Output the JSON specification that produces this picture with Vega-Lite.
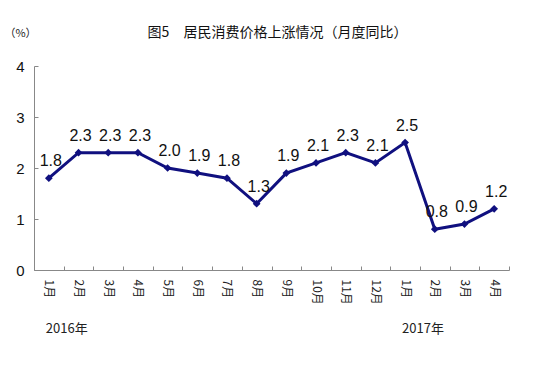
{
  "$schema": "https://vega.github.io/schema/vega-lite/v6.json",
  "width": 475,
  "height": 204,
  "autosize": "none",
  "padding": {"left": 34, "top": 66, "right": 39, "bottom": 99},
  "background": "white",
  "config": {"view": {"stroke": null}, "font": "Liberation Sans"},
  "title": {
    "text": "图5　居民消费价格上涨情况（月度同比）",
    "font": "Noto Sans CJK SC",
    "fontSize": 14,
    "fontWeight": "normal",
    "color": "#111",
    "anchor": "middle",
    "dx": 6,
    "offset": -13
  },
  "data": {
    "values": [
      {"m": "2016年1月", "v": 1.8, "year": "2016年"},
      {"m": "2016年2月", "v": 2.3, "year": ""},
      {"m": "2016年3月", "v": 2.3, "year": ""},
      {"m": "2016年4月", "v": 2.3, "year": ""},
      {"m": "2016年5月", "v": 2.0, "year": ""},
      {"m": "2016年6月", "v": 1.9, "year": ""},
      {"m": "2016年7月", "v": 1.8, "year": ""},
      {"m": "2016年8月", "v": 1.3, "year": ""},
      {"m": "2016年9月", "v": 1.9, "year": ""},
      {"m": "2016年10月", "v": 2.1, "year": ""},
      {"m": "2016年11月", "v": 2.3, "year": ""},
      {"m": "2016年12月", "v": 2.1, "year": ""},
      {"m": "2017年1月", "v": 2.5, "year": "2017年"},
      {"m": "2017年2月", "v": 0.8, "year": ""},
      {"m": "2017年3月", "v": 0.9, "year": ""},
      {"m": "2017年4月", "v": 1.2, "year": ""}
    ]
  },
  "encoding": {
    "x": {
      "field": "m",
      "type": "nominal",
      "sort": null,
      "scale": {"type": "band", "paddingInner": 0, "paddingOuter": 0},
      "axis": {
        "title": null,
        "labelAngle": 90,
        "labelExpr": "split(datum.value, '年')[1]",
        "labelFont": "Noto Sans CJK SC",
        "labelFontSize": 12,
        "labelColor": "#222",
        "labelPadding": 13,
        "domainColor": "#888",
        "tickColor": "#888",
        "tickSize": -4,
        "tickBand": "extent",
        "grid": false
      }
    },
    "y": {
      "field": "v",
      "type": "quantitative",
      "scale": {"domain": [0, 4], "nice": false, "zero": true},
      "axis": {
        "values": [0, 1, 2, 3, 4],
        "grid": false,
        "title": "（%）",
        "titleAngle": 0,
        "titleX": -14,
        "titleY": -33,
        "titleAlign": "center",
        "titleBaseline": "middle",
        "titleFont": "Noto Sans CJK SC",
        "titleFontSize": 11,
        "titleFontWeight": "normal",
        "titleColor": "#222",
        "labelFontSize": 15,
        "labelColor": "#111",
        "labelPadding": 14,
        "domainColor": "#888",
        "tickColor": "#888",
        "tickSize": -4
      }
    }
  },
  "layer": [
    {
      "mark": {"type": "line", "color": "#10107f", "strokeWidth": 3},
      "encoding": {}
    },
    {
      "mark": {"type": "point", "shape": "diamond", "filled": true, "color": "#10107f", "size": 60, "opacity": 1},
      "encoding": {}
    },
    {
      "mark": {"type": "text", "fontSize": 16, "fontWeight": "normal", "color": "#111", "baseline": "bottom", "dy": -9, "dx": 2},
      "encoding": {"text": {"field": "v", "type": "quantitative", "format": ".1f"}}
    },
    {
      "mark": {"type": "text", "font": "Noto Sans CJK SC", "fontSize": 13, "color": "#222", "align": "left", "dx": -3, "dy": 59, "baseline": "middle", "clip": false},
      "encoding": {
        "y": {"datum": 0, "type": "quantitative"},
        "text": {"field": "year", "type": "nominal"}
      }
    }
  ]
}
